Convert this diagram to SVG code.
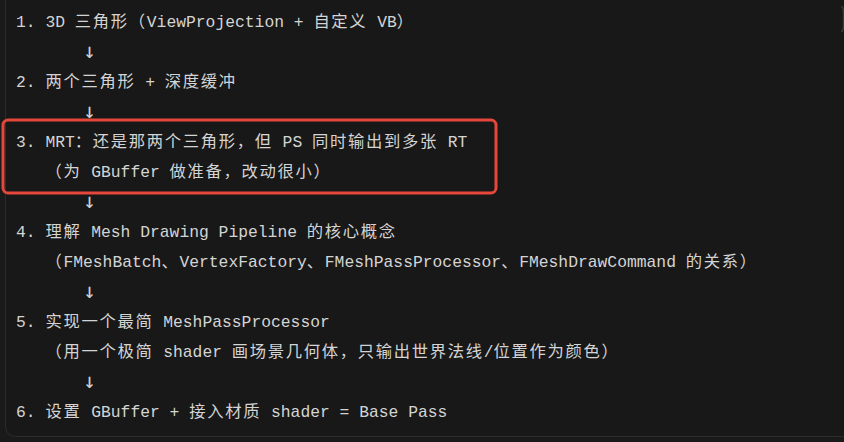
<svg xmlns="http://www.w3.org/2000/svg" width="844" height="442" viewBox="0 0 844 442" xml:space="preserve">
<style>
text{font-family:"Liberation Mono","DejaVu Sans Mono","Noto Sans CJK SC",monospace;font-size:16.33px;fill:#d4d4d4;white-space:pre}
.c{font-family:"Noto Sans CJK SC","Liberation Mono",sans-serif;letter-spacing:1.67px}
.arrow{font-family:"DejaVu Sans Mono","Liberation Mono",monospace;font-size:21px;fill:#d0d0d0}
</style>
<rect x="0" y="0" width="844" height="442" fill="#1a1a1a"/>
<rect x="5.5" y="-20" width="900" height="456.5" rx="10" fill="#181818" stroke="#2c2c2c" stroke-width="1"/>
<path d="M841.5 6 Q843.5 8 843.5 12 L843.5 26 Q843.5 30 841.5 32" fill="none" stroke="#3a3a3a" stroke-width="1.5"/>
<g id="step1"><text x="16" y="27">1. 3D <tspan class="c">三角形（</tspan>ViewProjection + <tspan class="c">自定义</tspan> VB<tspan class="c">）</tspan></text></g>
<g id="step2"><text x="16" y="87">2. <tspan class="c">两个三角形</tspan> + <tspan class="c">深度缓冲</tspan></text></g>
<g id="step3">
<rect x="3" y="120" width="493" height="73" rx="5" fill="none" stroke="#e5473b" stroke-width="3"/>
<text x="16" y="147">3. MRT<tspan class="c">：还是那两个三角形，但</tspan> PS <tspan class="c">同时输出到多张</tspan> RT</text>
<text x="45.4" y="177"><tspan class="c">（为</tspan> GBuffer <tspan class="c">做准备，改动很小）</tspan></text>
</g>
<g id="step4">
<text x="16" y="237">4. <tspan class="c">理解</tspan> Mesh Drawing Pipeline <tspan class="c">的核心概念</tspan></text>
<text x="45.4" y="267"><tspan class="c">（</tspan>FMeshBatch<tspan class="c">、</tspan>VertexFactory<tspan class="c">、</tspan>FMeshPassProcessor<tspan class="c">、</tspan>FMeshDrawCommand <tspan class="c">的关系）</tspan></text>
</g>
<g id="step5">
<text x="16" y="327">5. <tspan class="c">实现一个最简</tspan> MeshPassProcessor</text>
<text x="45.4" y="357"><tspan class="c">（用一个极简</tspan> shader <tspan class="c">画场景几何体，只输出世界法线</tspan>/<tspan class="c">位置作为颜色）</tspan></text>
</g>
<g id="step6"><text x="16" y="417">6. <tspan class="c">设置</tspan> GBuffer + <tspan class="c">接入材质</tspan> shader = Base Pass</text></g>
<g id="connectors">
<text class="arrow" x="89.5" y="58" text-anchor="middle">↓</text>
<text class="arrow" x="89.5" y="118" text-anchor="middle">↓</text>
<text class="arrow" x="89.5" y="208" text-anchor="middle">↓</text>
<text class="arrow" x="89.5" y="298" text-anchor="middle">↓</text>
<text class="arrow" x="89.5" y="388" text-anchor="middle">↓</text>
</g>
</svg>
